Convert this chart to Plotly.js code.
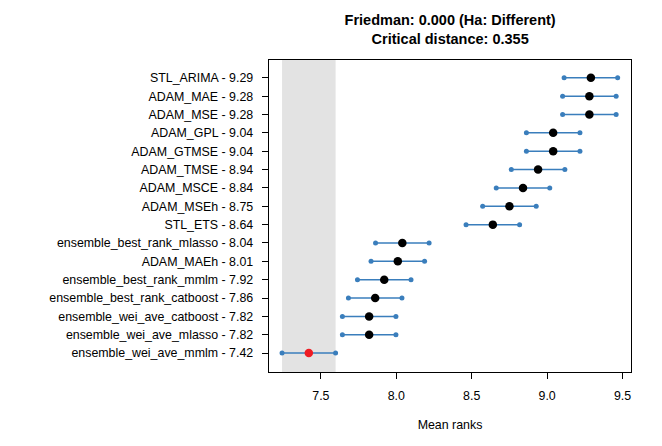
<!DOCTYPE html>
<html><head><meta charset="utf-8">
<script src="https://cdn.plot.ly/plotly-3.0.1.min.js"></script>
<style>html,body{margin:0;padding:0;background:#fff}</style>
</head><body>
<div id="chart" style="width:662px;height:446px"></div>
<script>
const methods = ["STL_ARIMA","ADAM_MAE","ADAM_MSE","ADAM_GPL","ADAM_GTMSE","ADAM_TMSE","ADAM_MSCE","ADAM_MSEh","STL_ETS","ensemble_best_rank_mlasso","ADAM_MAEh","ensemble_best_rank_mmlm","ensemble_best_rank_catboost","ensemble_wei_ave_catboost","ensemble_wei_ave_mlasso","ensemble_wei_ave_mmlm"];
const meanRanks = [9.29,9.28,9.28,9.04,9.04,8.94,8.84,8.75,8.64,8.04,8.01,7.92,7.86,7.82,7.82,7.42];
const criticalDistance = 0.355;
const friedmanP = "0.000";
const xTicks = [7.5,8.0,8.5,9.0,9.5];
const xTickText = ["7.5","8.0","8.5","9.0","9.5"];

const n = methods.length;
const half = criticalDistance/2;
const ypos = methods.map((m,i)=>n-i);
const labels = methods.map((m,i)=>m+" - "+meanRanks[i].toFixed(2));
const best = Math.min(...meanRanks);
const bestIdx = meanRanks.indexOf(best);

const lx=[], ly=[];
methods.forEach((m,i)=>{lx.push(meanRanks[i]-half, meanRanks[i]+half, null); ly.push(ypos[i], ypos[i], null);});

const traces = [
  {type:'scatter', mode:'lines+markers', x:lx, y:ly, line:{color:'#3A7EBC', width:1.5},
   marker:{color:'#3A7EBC', size:5}, hoverinfo:'skip', showlegend:false},
  {type:'scatter', mode:'markers', x:meanRanks.filter((v,i)=>i!==bestIdx), y:ypos.filter((v,i)=>i!==bestIdx),
   marker:{color:'#000', size:8.5}, showlegend:false},
  {type:'scatter', mode:'markers', x:[best], y:[ypos[bestIdx]],
   marker:{color:'#EE1C24', size:8.5}, showlegend:false}
];

const font = {family:'Arial, "Liberation Sans", sans-serif', color:'#000', size:12.4};
const layout = {
  width:662, height:446,
  margin:{l:269, r:31, t:60, b:74},
  paper_bgcolor:'#fff', plot_bgcolor:'#fff',
  font:font,
  title:{text:'<b>Friedman: '+friedmanP+' (Ha: Different)</b><br><b>Critical distance: '+criticalDistance.toFixed(3)+'</b>',
    font:{family:font.family, size:14.5, color:'#000'}, x:0.68, xanchor:'center', y:0.943, yanchor:'top', yref:'container'},
  shapes:[{type:'rect', xref:'x', yref:'paper', x0:best-half, x1:best+half, y0:0, y1:1,
    fillcolor:'#E3E3E3', line:{width:0}, layer:'below'}],
  xaxis:{range:[7.156,9.556], tickvals:xTicks, ticktext:xTickText, showgrid:false, zeroline:false,
    showline:true, mirror:true, linecolor:'#000', linewidth:1.3, ticks:'outside', ticklen:6, tickcolor:'#000', tickwidth:1,
    ticklabelstandoff:6,
    title:{text:'Mean ranks', font:{size:12.4, color:'#000'}, standoff:18}},
  yaxis:{range:[-0.03,16.97], tickvals:ypos, ticktext:labels, showgrid:false, zeroline:false,
    showline:true, mirror:true, linecolor:'#000', linewidth:1.3, ticks:'outside', ticklen:6, tickcolor:'#000', tickwidth:1,
    ticklabelstandoff:6}
};
Plotly.newPlot('chart', traces, layout, {displayModeBar:false, staticPlot:true});
</script>
</body></html>
